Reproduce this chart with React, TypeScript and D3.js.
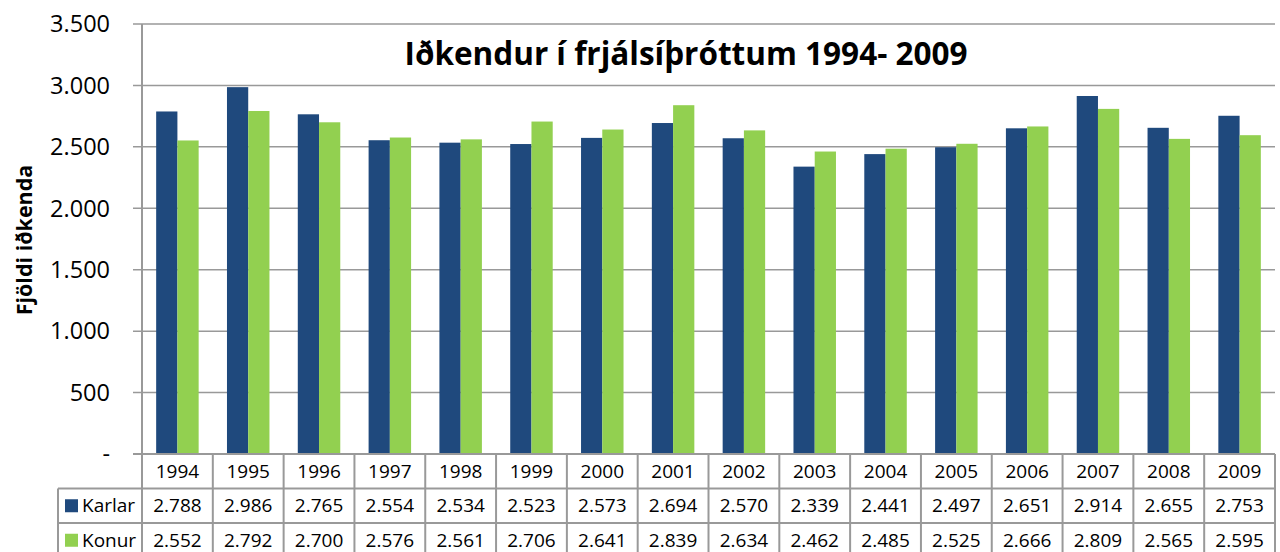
import React, { useEffect, useRef } from 'react';
import * as d3 from 'd3';

const years = ['1994', '1995', '1996', '1997', '1998', '1999', '2000', '2001', '2002', '2003', '2004', '2005', '2006', '2007', '2008', '2009'];
const karlar = [2788, 2986, 2765, 2554, 2534, 2523, 2573, 2694, 2570, 2339, 2441, 2497, 2651, 2914, 2655, 2753];
const konur = [2552, 2792, 2700, 2576, 2561, 2706, 2641, 2839, 2634, 2462, 2485, 2525, 2666, 2809, 2565, 2595];
const seriesNames = ['Karlar', 'Konur'];
const seriesColors = ['#1F497D', '#92D050'];
const yTicks = [0, 500, 1000, 1500, 2000, 2500, 3000, 3500];

const FONT = '"Open Sans", "Noto Sans", sans-serif';

const App: React.FC = () => {
    const svgRef = useRef<SVGSVGElement>(null);

    useEffect(() => {
        document.body.style.margin = '0';
        if (!svgRef.current) return;

        const width = 1280;
        const height = 552;
        const svg = d3.select(svgRef.current)
            .attr('width', width)
            .attr('height', height)
            .attr('viewBox', `0 0 ${width} ${height}`);

        svg.selectAll('*').remove();

        const left = 142;
        const right = 1275;
        const top = 24;
        const bottom = 454;
        const rowH = 34.5;
        const legendLeft = 58;
        const gridColor = '#999999';

        const x = d3.scaleBand<string>().domain(years).range([left, right]);
        const y = d3.scaleLinear().domain([0, 3500]).range([bottom, top]);

        const groupW = x.bandwidth() * 0.6;
        const x1 = d3.scaleBand<string>().domain(seriesNames).range([0, groupW]);

        // gridlines + tick marks
        svg.append('g')
            .selectAll('line')
            .data(yTicks.filter(t => t > 0))
            .enter()
            .append('line')
            .attr('x1', left - 9)
            .attr('x2', right)
            .attr('y1', d => y(d))
            .attr('y2', d => y(d))
            .attr('stroke', gridColor)
            .attr('stroke-width', 1.5);

        // y tick labels
        svg.append('g')
            .selectAll('text')
            .data(yTicks)
            .enter()
            .append('text')
            .attr('x', 110)
            .attr('y', d => y(d))
            .attr('dy', '0.35em')
            .attr('text-anchor', 'end')
            .attr('font-family', FONT)
            .attr('font-size', 23.5)
            .attr('fill', '#000')
            .text(d => d === 0 ? '-' : d3.format(',')(d).replace(/,/g, '.'));

        // bars
        const data = years.map((yr, i) => ({ yr, values: [karlar[i], konur[i]] }));
        const groups = svg.append('g')
            .selectAll('g')
            .data(data)
            .enter()
            .append('g')
            .attr('transform', d => `translate(${(x(d.yr) as number) + (x.bandwidth() - groupW) / 2},0)`);

        groups.selectAll('rect')
            .data(d => d.values.map((v, k) => ({ name: seriesNames[k], v, k })))
            .enter()
            .append('rect')
            .attr('x', d => x1(d.name) as number)
            .attr('width', x1.bandwidth())
            .attr('y', d => y(d.v))
            .attr('height', d => bottom - y(d.v))
            .attr('fill', d => seriesColors[d.k]);

        // vertical axis line
        svg.append('line')
            .attr('x1', left).attr('x2', left)
            .attr('y1', top).attr('y2', height)
            .attr('stroke', gridColor)
            .attr('stroke-width', 2);

        // data table
        const table = svg.append('g');
        const rows = [bottom, bottom + rowH, bottom + 2 * rowH, bottom + 3 * rowH];
        // horizontal lines
        table.selectAll('line.h')
            .data(rows)
            .enter()
            .append('line')
            .attr('x1', (d, i) => (i === 0 ? left - 9 : legendLeft))
            .attr('x2', right)
            .attr('y1', d => d)
            .attr('y2', d => d)
            .attr('stroke', gridColor)
            .attr('stroke-width', 2);
        // vertical lines
        table.selectAll('line.v')
            .data(years.map(yr => (x(yr) as number) + x.bandwidth()))
            .enter()
            .append('line')
            .attr('x1', d => d)
            .attr('x2', d => d)
            .attr('y1', bottom)
            .attr('y2', height)
            .attr('stroke', gridColor)
            .attr('stroke-width', 2);
        table.append('line')
            .attr('x1', legendLeft).attr('x2', legendLeft)
            .attr('y1', bottom + rowH).attr('y2', height)
            .attr('stroke', gridColor)
            .attr('stroke-width', 2);

        // year header
        table.selectAll('text.yr')
            .data(years)
            .enter()
            .append('text')
            .attr('x', d => (x(d) as number) + x.bandwidth() / 2)
            .attr('y', bottom + rowH / 2)
            .attr('dy', '0.35em')
            .attr('text-anchor', 'middle')
            .attr('font-family', FONT)
            .attr('font-size', 19)
            .attr('fill', '#000')
            .text(d => d);

        const fmt = (v: number) => d3.format(',')(v).replace(/,/g, '.');
        [karlar, konur].forEach((vals, k) => {
            const cy = bottom + rowH * (k + 1) + rowH / 2;
            table.append('rect')
                .attr('x', 65)
                .attr('y', cy - 6.5)
                .attr('width', 13)
                .attr('height', 13)
                .attr('fill', seriesColors[k]);
            table.append('text')
                .attr('x', 82)
                .attr('y', cy)
                .attr('dy', '0.35em')
                .attr('font-family', FONT)
                .attr('font-size', 19)
                .attr('fill', '#000')
                .text(seriesNames[k]);
            table.selectAll(`text.v${k}`)
                .data(vals)
                .enter()
                .append('text')
                .attr('x', (d, i) => (x(years[i]) as number) + x.bandwidth() / 2)
                .attr('y', cy)
                .attr('dy', '0.35em')
                .attr('text-anchor', 'middle')
                .attr('font-family', FONT)
                .attr('font-size', 19)
                .attr('fill', '#000')
                .text(d => fmt(d));
        });

        // title
        svg.append('text')
            .attr('x', 686)
            .attr('y', 65)
            .attr('text-anchor', 'middle')
            .attr('font-family', FONT)
            .attr('font-weight', 'bold')
            .attr('font-size', 31.5)
            .attr('fill', '#000')
            .text('Iðkendur í frjálsíþróttum 1994- 2009');

        // y axis title
        svg.append('text')
            .attr('transform', 'translate(24,240) rotate(-90)')
            .attr('dy', '0.35em')
            .attr('text-anchor', 'middle')
            .attr('font-family', FONT)
            .attr('font-weight', 'bold')
            .attr('font-size', 21.5)
            .attr('fill', '#000')
            .text('Fjöldi iðkenda');
    }, []);

    return <svg ref={svgRef} style={{ display: 'block', background: '#fff' }} />;
};

export default App;
